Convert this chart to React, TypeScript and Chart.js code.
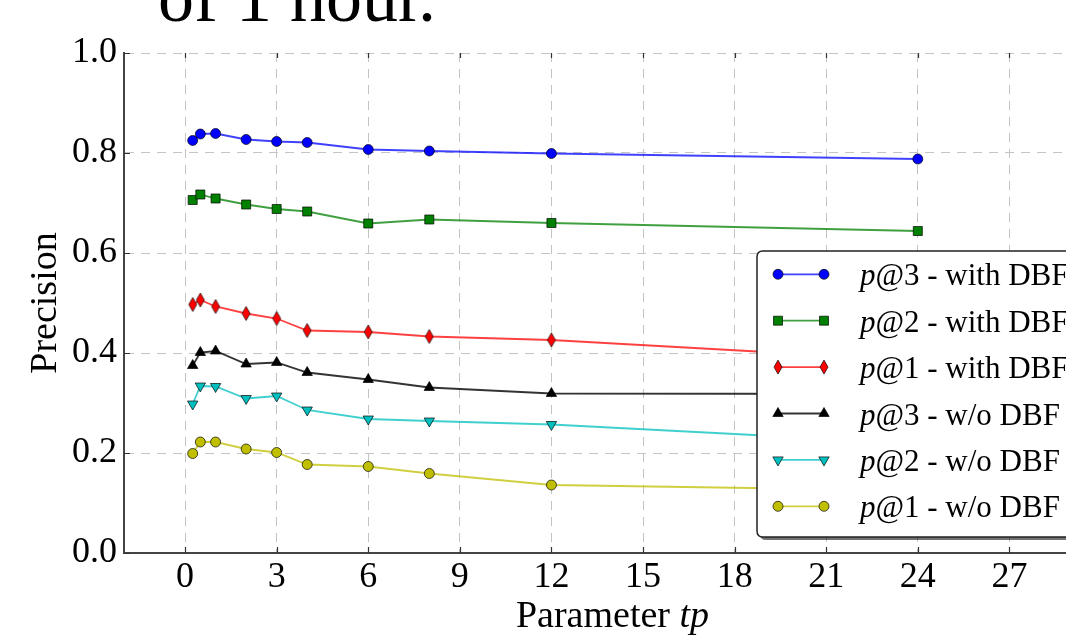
import React, { useEffect, useRef } from 'react';
import { Chart, registerables } from 'chart.js';

Chart.register(...registerables);

// ---- data ----
const TP = [0.25, 0.5, 1, 2, 3, 4, 6, 8, 12, 24];
const P3_WITH = [0.825, 0.838, 0.839, 0.827, 0.823, 0.821, 0.807, 0.804, 0.799, 0.788];
const P2_WITH = [0.706, 0.717, 0.709, 0.697, 0.688, 0.683, 0.659, 0.667, 0.660, 0.644];
const P1_WITH = [0.497, 0.506, 0.493, 0.479, 0.469, 0.445, 0.442, 0.433, 0.426, 0.385];
const P3_WO = [0.375, 0.401, 0.404, 0.378, 0.381, 0.361, 0.347, 0.331, 0.319, 0.318];
const P2_WO = [0.298, 0.334, 0.333, 0.309, 0.314, 0.286, 0.268, 0.264, 0.257, 0.219];
const P1_WO = [0.199, 0.222, 0.222, 0.208, 0.201, 0.177, 0.173, 0.159, 0.136, 0.125];

const SERIES_LABELS = [
  'p@3 - with DBF',
  'p@2 - with DBF',
  'p@1 - with DBF',
  'p@3 - w/o DBF',
  'p@2 - w/o DBF',
  'p@1 - w/o DBF',
];
const X_TICKS = [0, 3, 6, 9, 12, 15, 18, 21, 24, 27];
const Y_TICKS = [0, 0.2, 0.4, 0.6, 0.8, 1.0];
const TOP_TEXT = 'of 1 hour.';
const X_TITLE = ['Parameter ', 'tp'];
const Y_TITLE = 'Precision';

const SERIF = '"Liberation Serif", "DejaVu Serif", serif';

type MarkerKind = 'circle' | 'square' | 'thinDiamond' | 'triUp' | 'triDown';

const STYLES: { fill: string; line: string; marker: MarkerKind }[] = [
  { fill: '#0000ff', line: 'rgba(0,0,255,0.75)', marker: 'circle' },
  { fill: '#008000', line: 'rgba(0,128,0,0.75)', marker: 'square' },
  { fill: '#ff0000', line: 'rgba(255,0,0,0.75)', marker: 'thinDiamond' },
  { fill: '#000000', line: 'rgba(0,0,0,0.8)', marker: 'triUp' },
  { fill: '#00bfbf', line: 'rgba(0,191,191,0.75)', marker: 'triDown' },
  { fill: '#bfbf00', line: 'rgba(191,191,0,0.75)', marker: 'circle' },
];

const SERIES = [P3_WITH, P2_WITH, P1_WITH, P3_WO, P2_WO, P1_WO];

function markerPath(ctx: CanvasRenderingContext2D, kind: MarkerKind, x: number, y: number) {
  ctx.beginPath();
  if (kind === 'circle') {
    ctx.arc(x, y, 5, 0, Math.PI * 2);
  } else if (kind === 'square') {
    ctx.rect(x - 4.5, y - 4.5, 9, 9);
  } else if (kind === 'thinDiamond') {
    ctx.moveTo(x, y - 7);
    ctx.lineTo(x + 4, y);
    ctx.lineTo(x, y + 7);
    ctx.lineTo(x - 4, y);
    ctx.closePath();
  } else {
    const r = 6;
    const base = kind === 'triUp' ? -Math.PI / 2 : Math.PI / 2;
    for (let i = 0; i < 3; i++) {
      const a = base + (i * 2 * Math.PI) / 3;
      const px = x + Math.cos(a) * r;
      const py = y + Math.sin(a) * r;
      if (i === 0) ctx.moveTo(px, py);
      else ctx.lineTo(px, py);
    }
    ctx.closePath();
  }
}

function drawMarker(ctx: CanvasRenderingContext2D, kind: MarkerKind, x: number, y: number, fill: string) {
  ctx.save();
  markerPath(ctx, kind, x, y);
  ctx.fillStyle = fill;
  ctx.fill();
  ctx.lineWidth = 0.8;
  ctx.strokeStyle = 'rgba(0,0,0,0.85)';
  ctx.stroke();
  ctx.restore();
}

function makeMarkerCanvas(kind: MarkerKind, fill: string) {
  const c = document.createElement('canvas');
  c.width = 16;
  c.height = 18;
  const ctx = c.getContext('2d')!;
  drawMarker(ctx, kind, 8, 9, fill);
  return c;
}

function roundRect(ctx: CanvasRenderingContext2D, x: number, y: number, w: number, h: number, r: number) {
  ctx.beginPath();
  ctx.moveTo(x + r, y);
  ctx.lineTo(x + w - r, y);
  ctx.quadraticCurveTo(x + w, y, x + w, y + r);
  ctx.lineTo(x + w, y + h - r);
  ctx.quadraticCurveTo(x + w, y + h, x + w - r, y + h);
  ctx.lineTo(x + r, y + h);
  ctx.quadraticCurveTo(x, y + h, x, y + h - r);
  ctx.lineTo(x, y + r);
  ctx.quadraticCurveTo(x, y, x + r, y);
  ctx.closePath();
}

const decorPlugin = {
  id: 'decor',
  afterDraw(chart: any) {
    const ctx: CanvasRenderingContext2D = chart.ctx;
    const area = chart.chartArea;
    const xs = chart.scales.x;
    const ys = chart.scales.y;
    ctx.save();

    // inward tick marks
    ctx.strokeStyle = '#333';
    ctx.lineWidth = 1.2;
    ctx.beginPath();
    for (const v of Y_TICKS) {
      const py = Math.round(ys.getPixelForValue(v)) + 0.5;
      ctx.moveTo(area.left, py);
      ctx.lineTo(area.left + 6, py);
    }
    for (const v of X_TICKS) {
      const px = Math.round(xs.getPixelForValue(v)) + 0.5;
      ctx.moveTo(px, area.bottom);
      ctx.lineTo(px, area.bottom - 6);
      ctx.moveTo(px, area.top);
      ctx.lineTo(px, area.top + 5);
    }
    ctx.stroke();

    // top text (cut off caption)
    ctx.fillStyle = '#000';
    ctx.font = `72px ${SERIF}`;
    ctx.textAlign = 'left';
    ctx.textBaseline = 'alphabetic';
    ctx.fillText(TOP_TEXT, 158, 21);

    // x title
    ctx.font = `38px ${SERIF}`;
    const w1 = ctx.measureText(X_TITLE[0]).width;
    ctx.font = `italic 38px ${SERIF}`;
    const w2 = ctx.measureText(X_TITLE[1]).width;
    const cx = (area.left + area.right) / 2;
    const sx = cx - (w1 + w2) / 2;
    ctx.font = `38px ${SERIF}`;
    ctx.fillText(X_TITLE[0], sx, 627);
    ctx.font = `italic 38px ${SERIF}`;
    ctx.fillText(X_TITLE[1], sx + w1, 627);

    // y title
    ctx.save();
    ctx.translate(56, (area.top + area.bottom) / 2);
    ctx.rotate(-Math.PI / 2);
    ctx.font = `38px ${SERIF}`;
    ctx.textAlign = 'center';
    ctx.fillText(Y_TITLE, 0, 0);
    ctx.restore();

    // legend
    const lx = 757, ly = 251, lw = 340, lh = 286;
    ctx.fillStyle = 'rgba(0,0,0,0.55)';
    roundRect(ctx, lx + 3, ly + 3, lw, lh, 6);
    ctx.fill();
    ctx.fillStyle = '#fff';
    roundRect(ctx, lx, ly, lw, lh, 6);
    ctx.fill();
    ctx.strokeStyle = '#222';
    ctx.lineWidth = 1.5;
    ctx.stroke();

    const rowY0 = 274.3;
    const rowStep = 46.4;
    SERIES_LABELS.forEach((label, i) => {
      const y = rowY0 + i * rowStep;
      const st = STYLES[i];
      ctx.strokeStyle = st.line;
      ctx.lineWidth = 1.8;
      ctx.beginPath();
      ctx.moveTo(778, y);
      ctx.lineTo(824, y);
      ctx.stroke();
      drawMarker(ctx, st.marker, 778, y, st.fill);
      drawMarker(ctx, st.marker, 824, y, st.fill);
      ctx.fillStyle = '#000';
      ctx.textAlign = 'left';
      ctx.font = `italic 31px ${SERIF}`;
      const head = label.slice(0, 1);
      const rest = label.slice(1);
      ctx.fillText(head, 860, y + 11);
      const hw = ctx.measureText(head).width;
      ctx.font = `31px ${SERIF}`;
      ctx.fillText(rest, 860 + hw, y + 11);
    });

    ctx.restore();
  },
};

export default function App() {
  const ref = useRef<HTMLCanvasElement | null>(null);

  useEffect(() => {
    const canvas = ref.current;
    if (!canvas) return;
    const datasets = SERIES.map((vals, i) => {
      const st = STYLES[i];
      let pointStyle: any;
      let pointRadius = 5;
      let pointRotation = 0;
      if (st.marker === 'circle') {
        pointStyle = 'circle';
        pointRadius = 5;
      } else if (st.marker === 'square') {
        pointStyle = 'rect';
        pointRadius = 6.4;
      } else if (st.marker === 'triUp') {
        pointStyle = 'triangle';
        pointRadius = 6;
      } else if (st.marker === 'triDown') {
        pointStyle = 'triangle';
        pointRadius = 6;
        pointRotation = 180;
      } else {
        pointStyle = makeMarkerCanvas('thinDiamond', st.fill);
        pointRadius = 7;
      }
      return {
        label: SERIES_LABELS[i],
        data: TP.map((x, k) => ({ x, y: vals[k] })),
        borderColor: st.line,
        borderWidth: 1.8,
        backgroundColor: st.fill,
        pointBackgroundColor: st.fill,
        pointBorderColor: 'rgba(0,0,0,0.85)',
        pointBorderWidth: 0.8,
        pointStyle,
        pointRadius,
        pointRotation,
        tension: 0,
        fill: false,
      };
    });

    const chart = new Chart(canvas, {
      type: 'line',
      data: { datasets },
      options: {
        responsive: false,
        animation: false,
        devicePixelRatio: 1,
        layout: { padding: { left: 0, top: 53, right: 29, bottom: 0 } },
        plugins: {
          legend: { display: false },
          tooltip: { enabled: false },
          title: { display: false },
        },
        scales: {
          x: {
            type: 'linear',
            min: -2,
            max: 30,
            afterFit: (s: any) => {
              s.height = 85;
            },
            afterBuildTicks: (s: any) => {
              s.ticks = X_TICKS.map((v) => ({ value: v }));
            },
            ticks: {
              font: { family: SERIF, size: 36 },
              color: '#000',
              padding: 3,
              maxRotation: 0,
              autoSkip: false,
              callback: (v: any) => String(v),
            },
            grid: { color: '#c4c4c4', lineWidth: 1, drawTicks: false },
            border: { display: true, color: '#444', width: 2, dash: [9, 7] },
          },
          y: {
            type: 'linear',
            min: 0,
            max: 1,
            afterFit: (s: any) => {
              s.width = 124;
            },
            afterBuildTicks: (s: any) => {
              s.ticks = Y_TICKS.map((v) => ({ value: v }));
            },
            ticks: {
              font: { family: SERIF, size: 36 },
              color: '#000',
              padding: 7,
              autoSkip: false,
              callback: (v: any) => Number(v).toFixed(1),
            },
            grid: { color: '#c4c4c4', lineWidth: 1, drawTicks: false },
            border: { display: true, color: '#444', width: 2, dash: [9, 7] },
          },
        },
      },
      plugins: [decorPlugin],
    });
    return () => chart.destroy();
  }, []);

  return (
    <div
      style={{
        position: 'fixed',
        left: 0,
        top: 0,
        width: 1066,
        height: 638,
        overflow: 'hidden',
        background: '#fff',
      }}
    >
      <canvas ref={ref} width={1130} height={638} style={{ display: 'block' }} />
    </div>
  );
}
